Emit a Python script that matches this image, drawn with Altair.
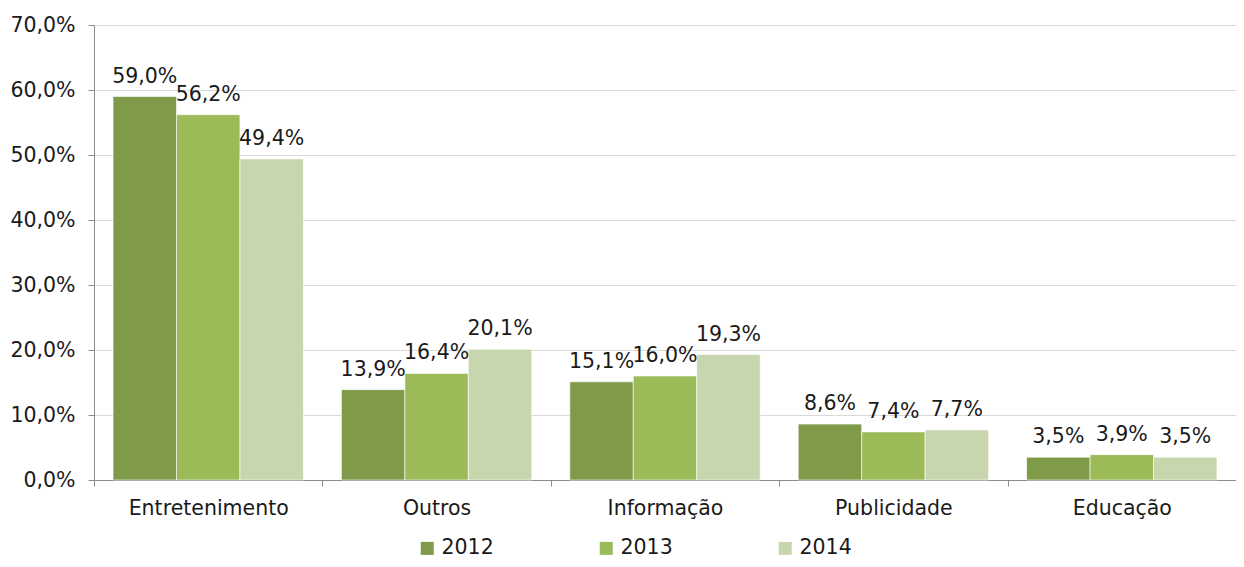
import altair as alt
import pandas as pd

categories = ["Entretenimento", "Outros", "Informação", "Publicidade", "Educação"]
years = ["2012", "2013", "2014"]
v2012 = [59.0, 13.9, 15.1, 8.6, 3.5]
v2013 = [56.2, 16.4, 16.0, 7.4, 3.9]
v2014 = [49.4, 20.1, 19.3, 7.7, 3.5]
colors = ["#7f9a48", "#9bbb59", "#c7d6ad"]

rows = []
for i, c in enumerate(categories):
    for y, vals in zip(years, [v2012, v2013, v2014]):
        rows.append({"cat": c, "year": y, "value": vals[i]})
df = pd.DataFrame(rows)

FONT = "DejaVu Sans"
FS = 20.5

base = alt.Chart(df).transform_calculate(
    label="replace(format(datum.value, '.1f'), '.', ',') + '%'"
)

x = alt.X("cat:N", sort=categories, title=None,
          scale=alt.Scale(paddingInner=0, paddingOuter=0),
          axis=alt.Axis(labelAngle=0, labelFontSize=FS, labelColor="#1a1a1a",
                        labelFont=FONT, labelPadding=12, tickBand="extent",
                        tickSize=6, tickColor="#8c8c8c", domainColor="#8c8c8c",
                        labelLimit=300))
y = alt.Y("value:Q", title=None,
          scale=alt.Scale(domain=[0, 70], nice=False),
          axis=alt.Axis(values=[0, 10, 20, 30, 40, 50, 60, 70],
                        labelExpr="replace(format(datum.value, '.1f'), '.', ',') + '%'",
                        labelFontSize=FS, labelColor="#1a1a1a", labelFont=FONT,
                        tickSize=6, tickColor="#8c8c8c", domainColor="#8c8c8c",
                        gridColor="#d9d9d9", labelPadding=13))
xo = alt.XOffset("year:N", sort=years,
                 scale=alt.Scale(paddingInner=0, paddingOuter=0.3))
color = alt.Color("year:N", scale=alt.Scale(domain=years, range=colors),
                  legend=alt.Legend(title=None, orient="none", direction="horizontal",
                                    legendX=323, legendY=513,
                                    symbolType="square", symbolSize=169,
                                    symbolStrokeWidth=0, labelFontSize=FS,
                                    labelFont=FONT, labelColor="#1a1a1a",
                                    columnPadding=102, labelLimit=200))

bars = base.mark_bar(stroke="white", strokeWidth=0.6).encode(
    x=x, y=y, color=color, xOffset=xo
)
text = base.mark_text(dy=-20, fontSize=FS, font=FONT, color="#1a1a1a").encode(
    x=alt.X("cat:N", sort=categories), y="value:Q",
    xOffset=xo, text="label:N"
)

chart = alt.layer(bars, text).properties(
    width=1142, height=455,
    autosize=alt.AutoSizeParams(type="none"),
    padding={"left": 86, "top": 17, "right": 0, "bottom": 79},
).configure_view(stroke=None)

chart.save("out.html", embed_options={"renderer": "svg", "actions": False})
